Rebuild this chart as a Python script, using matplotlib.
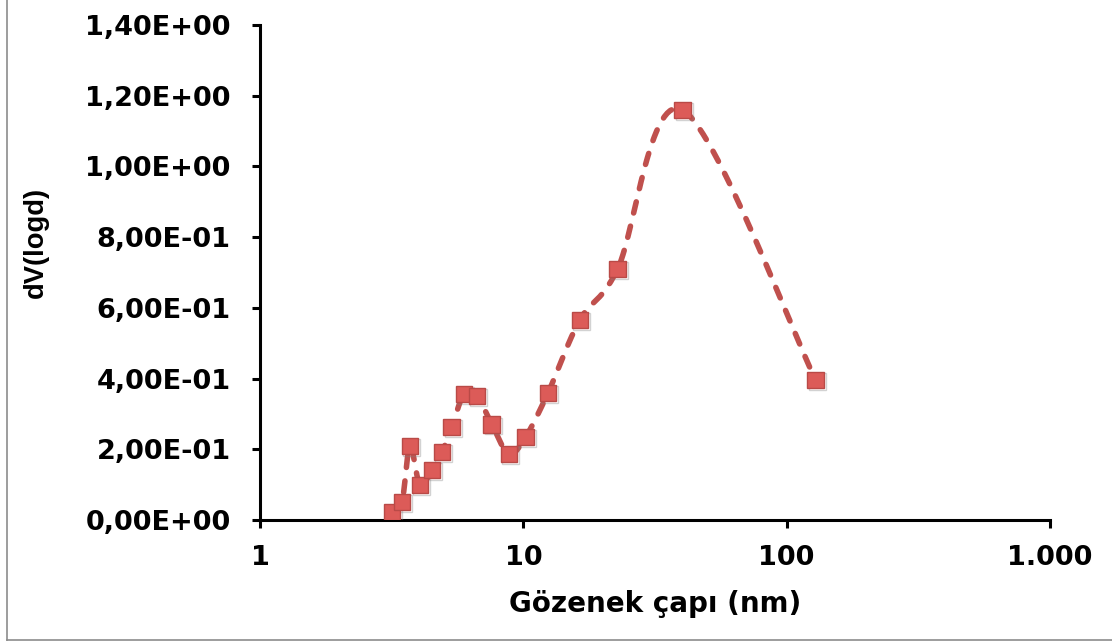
import numpy as np
import matplotlib
matplotlib.use('Agg')
import matplotlib.pyplot as plt
from matplotlib import patheffects
from matplotlib.lines import Line2D

# pore diameter (nm) and dV(logd)
pore_d = [3.17, 3.46, 3.71, 4.05, 4.50, 4.91, 5.35, 5.95, 6.66, 7.59,
          8.81, 10.2, 12.4, 16.4, 22.8, 40.3, 128.8]
dv_logd = [0.023, 0.051, 0.209, 0.099, 0.141, 0.192, 0.263, 0.356, 0.351, 0.271,
           0.187, 0.235, 0.359, 0.566, 0.710, 1.160, 0.396]

x_ticks = [1, 10, 100, 1000]
x_tick_labels = ['1', '10', '100', '1.000']
y_ticks = [0.0, 0.2, 0.4, 0.6, 0.8, 1.0, 1.2, 1.4]
y_tick_labels = ['0,00E+00', '2,00E-01', '4,00E-01', '6,00E-01',
                 '8,00E-01', '1,00E+00', '1,20E+00', '1,40E+00']

W, H = 1112, 643
fig = plt.figure(figsize=(W / 100, H / 100), dpi=100)
ax = fig.add_axes([260 / W, 1 - 520 / H, 790 / W, 495 / H])

ax.set_xscale('log')
ax.set_xlim(1, 1000)
ax.set_ylim(0, 1.4)

red = '#C0504D'


def smooth_curve(xs, ys, n=30):
    # excel-like smoothed line, built in screen space
    pts = ax.transData.transform(np.column_stack([xs, ys]))
    p = np.vstack([pts[0], pts, pts[-1]])
    out = []
    t = np.linspace(0, 1, n)[:, None]
    for i in range(1, len(p) - 2):
        p0, p1, p2, p3 = p[i - 1], p[i], p[i + 1], p[i + 2]
        c1 = p1 + (p2 - p0) / 6
        c2 = p2 - (p3 - p1) / 6
        seg = ((1 - t) ** 3) * p1 + 3 * ((1 - t) ** 2) * t * c1 + 3 * (1 - t) * t ** 2 * c2 + t ** 3 * p2
        out.append(seg if i == 1 else seg[1:])
    out = np.vstack(out)
    return ax.transData.inverted().transform(out)


curve = smooth_curve(pore_d, dv_logd)
ax.plot(curve[:, 0], curve[:, 1], color=red, lw=4.0, linestyle=(0, (2.06, 2.44)),
        dash_capstyle='round', zorder=2)
ax.plot(pore_d, dv_logd, linestyle='none', marker='s', markersize=12,
        markerfacecolor='#DC5B58', markeredgecolor='#B94A47', markeredgewidth=1.0,
        zorder=3,
        path_effects=[patheffects.SimpleLineShadow(offset=(1.2, -1.2), shadow_color='gray', alpha=0.35),
                      patheffects.Normal()])

for s in ['top', 'right']:
    ax.spines[s].set_visible(False)
for s in ['left', 'bottom']:
    ax.spines[s].set_linewidth(2.2)
    ax.spines[s].set_color('black')

ax.set_xticks(x_ticks)
ax.set_xticklabels(x_tick_labels)
ax.xaxis.set_minor_locator(matplotlib.ticker.NullLocator())
ax.set_yticks(y_ticks)
ax.set_yticklabels(y_tick_labels)
ax.tick_params(axis='both', direction='out', length=6, width=2.2, color='black')
ax.tick_params(axis='y', pad=15)
ax.tick_params(axis='x', pad=12)
for lab in ax.get_xticklabels() + ax.get_yticklabels():
    lab.set_fontfamily('DejaVu Sans')
    lab.set_fontweight('bold')
    lab.set_fontsize(19.5)

fig.text(655 / W, 1 - 612 / H, 'Gözenek çapı (nm)', ha='center', va='baseline',
         fontsize=20, fontweight='bold', family='DejaVu Sans')
fig.text(36 / W, 1 - 242 / H, 'dV(logd)', ha='center', va='center', rotation=90,
         fontsize=19.7, fontweight='bold', family='Liberation Sans')

# chart area border (left and bottom visible)
fig.add_artist(Line2D([7 / W, 7 / W], [1 - 640 / H, 1], transform=fig.transFigure,
                      color='#8c8c8c', lw=1.2))
fig.add_artist(Line2D([7 / W, 1], [1 - 640 / H, 1 - 640 / H], transform=fig.transFigure,
                      color='#8c8c8c', lw=1.2))

fig.savefig('out.png', dpi=100)
